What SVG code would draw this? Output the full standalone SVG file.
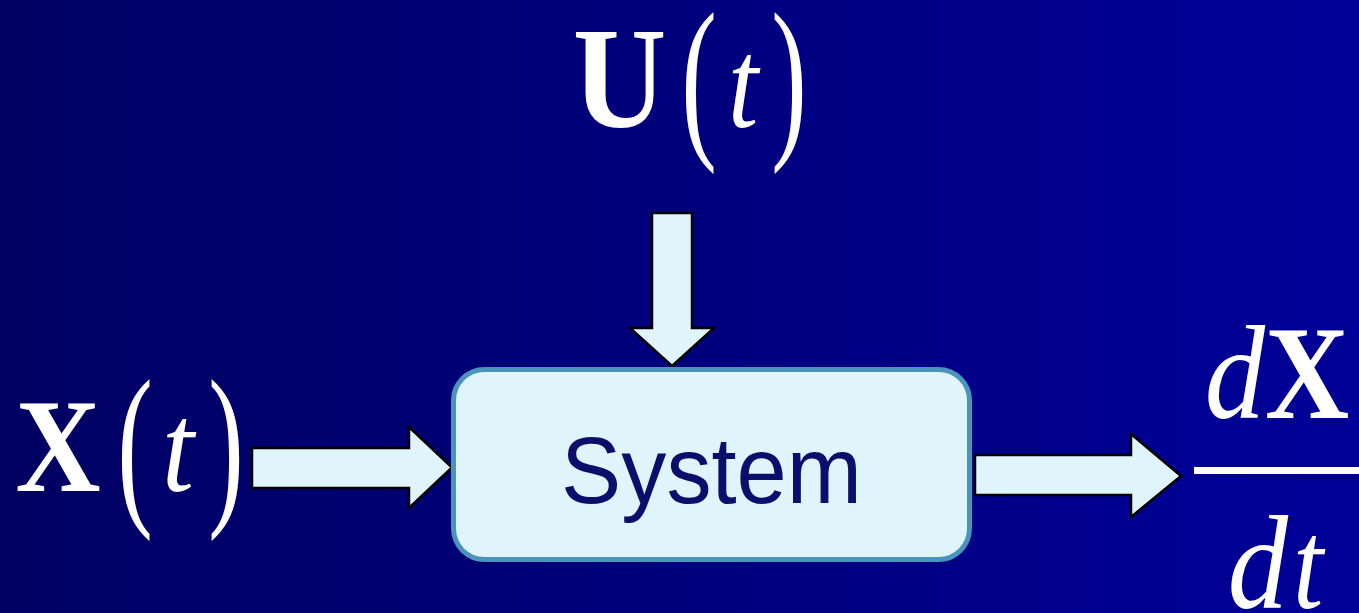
<svg xmlns="http://www.w3.org/2000/svg" width="1359" height="613" viewBox="0 0 1359 613">
  <defs>
    <linearGradient id="bg" x1="0" y1="0" x2="1" y2="0">
      <stop offset="0" stop-color="#000062"/>
      <stop offset="1" stop-color="#000098"/>
    </linearGradient>
  </defs>
  <style>
    .arrow { fill: #E0F4FC; stroke: #000000; stroke-width: 2.5; stroke-linejoin: miter; }
    .box { fill: #E0F4FC; stroke: #4A94BC; stroke-width: 5; }
    .lbl { font-family: "Liberation Sans", Arial, sans-serif; font-size: 94px; fill: #0D0D6B; }
    .m { font-family: "Liberation Serif", "Times New Roman", serif; fill: #FFFFFF; }
    .b { font-weight: bold; font-size: 134px; }
    .bu { font-weight: bold; font-size: 144px; }
    .i { font-style: italic; font-size: 134px; }
    .ti { font-style: italic; font-size: 128px; }
    .p { font-size: 178px; }
  </style>
  <rect x="0" y="0" width="1359" height="613" fill="url(#bg)"/>

  <g id="connectors">
    <polygon class="arrow" points="652,213 692,213 692,328 714,328 672,366 630,328 652,328"/>
    <polygon class="arrow" points="252,448 409,448 409,427 452,467.5 409,508 409,488 252,488"/>
    <polygon class="arrow" points="975,455 1131,455 1131,434 1181,476 1131,517 1131,495 975,495"/>
  </g>

  <g id="system">
    <rect class="box" x="453.5" y="369.5" width="516" height="190" rx="31" ry="31"/>
    <text class="lbl" text-anchor="middle" transform="translate(711.5,503) scale(0.96,1)">System</text>
  </g>

  <g id="U">
    <text class="m bu" text-anchor="middle" transform="translate(619.5,127) scale(0.9,1)">U</text>
    <text class="m p" text-anchor="middle" transform="translate(699,136) scale(0.6,1)">(</text>
    <text class="m ti" text-anchor="middle" transform="translate(743,127) scale(0.85,1)">t</text>
    <text class="m p" text-anchor="middle" transform="translate(789,136) scale(0.6,1)">)</text>
  </g>

  <g id="X">
    <text class="m b" text-anchor="middle" transform="translate(58,491) scale(0.88,1)">X</text>
    <text class="m p" text-anchor="middle" transform="translate(135,503) scale(0.6,1)">(</text>
    <text class="m ti" text-anchor="middle" transform="translate(178,491) scale(0.9,1)">t</text>
    <text class="m p" text-anchor="middle" transform="translate(226,503) scale(0.6,1)">)</text>
  </g>

  <g id="dXdt">
    <text class="m i" text-anchor="middle" transform="translate(1235,418) scale(0.9,1)">d</text>
    <text class="m b" text-anchor="middle" transform="translate(1307,418) scale(0.87,1)">X</text>
    <rect x="1194" y="467" width="165" height="7" fill="#FFFFFF"/>
    <text class="m i" text-anchor="middle" transform="translate(1258,608) scale(0.9,1)">d</text>
    <text class="m ti" text-anchor="middle" transform="translate(1308,608) scale(0.85,1)">t</text>
  </g>
</svg>
